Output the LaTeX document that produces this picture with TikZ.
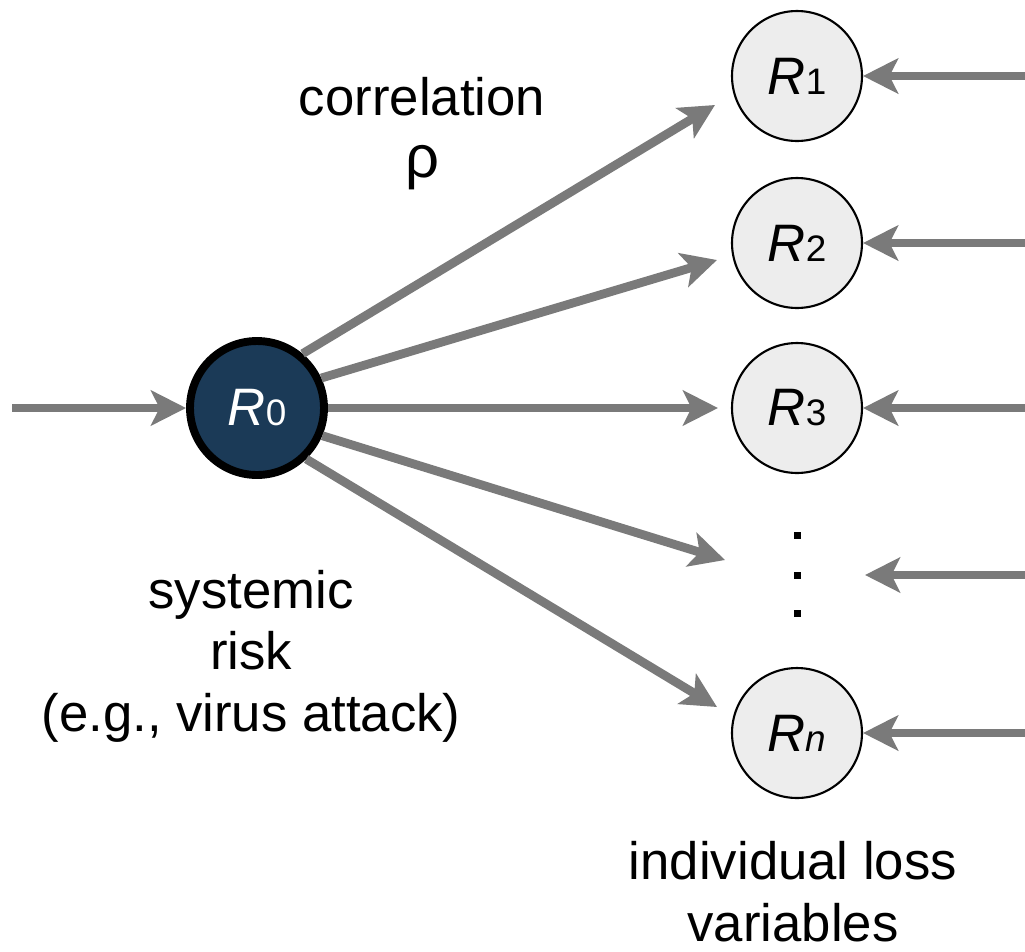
\documentclass[tikz,border=0pt]{standalone}
\usepackage{fontspec}
\setmainfont{Liberation Sans}
\usetikzlibrary{arrows.meta}
\definecolor{arrowgray}{HTML}{7A7A7A}
\definecolor{navy}{HTML}{1B3A57}
\definecolor{lightfill}{HTML}{EDEDED}
\newcommand\lsub[1]{{\fontsize{21}{21}\selectfont #1}}
\begin{document}
\begin{tikzpicture}[x=0.02cm,y=-0.02cm,
  flow/.style={draw=arrowgray, line width=5pt,
    -{Stealth[length=0.7cm,width=0.7cm,inset=0.17cm]}},
  sysnode/.style={circle, draw=black, line width=4.5pt, fill=navy,
    minimum size=2.68cm, inner sep=0pt, text=white, font=\fontsize{30}{30}\selectfont},
  lossnode/.style={circle, draw=black, line width=1.2pt, fill=lightfill,
    minimum size=2.6cm, inner sep=0pt, font=\fontsize{30}{30}\selectfont},
  dotbox/.style={fill=black, minimum size=0.14cm, inner sep=0pt},
  txt/.style={font=\fontsize{30}{35}\selectfont, align=center}
]
\path[use as bounding box] (0,0) rectangle (1025,951);

% systemic risk node
\node[sysnode] (R0) at (257,408) {\textit{R}\lsub{0}};

% individual loss variables
\node[lossnode] (R1) at (797,76)  {\textit{R}\lsub{1}};
\node[lossnode] (R2) at (797,243) {\textit{R}\lsub{2}};
\node[lossnode] (R3) at (797,408) {\textit{R}\lsub{3}};
\node[dotbox] (d1) at (797,535) {};
\node[dotbox] (d2) at (797,575) {};
\node[dotbox] (d3) at (797,613) {};
\node[lossnode] (Rn) at (797,733) {\textit{R}\lsub{\itshape n}};

% free ends of the connectors
\coordinate (in0) at (12,408);
\coordinate (t1) at (715,105);
\coordinate (t2) at (717,260);
\coordinate (t3) at (718,408);
\coordinate (td) at (725,560);
\coordinate (tn) at (717,707);
\coordinate (e1) at (1025,76);
\coordinate (e2) at (1025,243);
\coordinate (e3) at (1025,408);
\coordinate (ed) at (1025,575);
\coordinate (en) at (1025,733);
\coordinate (hd) at (865,575);

% incoming arrow
\draw[flow] (in0) -- (R0.west);

% correlation arrows
\draw[flow] (R0.50)  -- (t1);
\draw[flow] (R0.25)  -- (t2);
\draw[flow] (R0.east) -- (t3);
\draw[flow] (R0.-23) -- (td);
\draw[flow] (R0.-46) -- (tn);

% idiosyncratic inputs
\draw[flow] (e1) -- (R1.east);
\draw[flow] (e2) -- (R2.east);
\draw[flow] (e3) -- (R3.east);
\draw[flow] (ed) -- (hd);
\draw[flow] (en) -- (Rn.east);

% labels (base anchor sits on the last line)
\node[txt, anchor=base] (corr) at (422,177) {correlation\\[0pt]{\fontsize{34}{34}\selectfont ρ}};
\node[txt, anchor=base] (sys) at (251,731) {systemic\\risk\\(e.g., virus attack)};
\node[txt, anchor=base] (ind) at (793,941) {individual loss\\variables};
\end{tikzpicture}
\end{document}
